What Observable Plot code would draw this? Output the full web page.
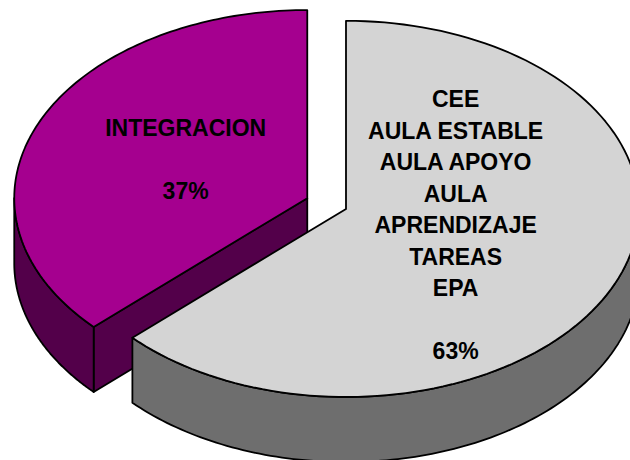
<!DOCTYPE html>
<html>
<head>
<meta charset="utf-8">
<script src="https://cdn.jsdelivr.net/npm/d3@7"></script>
<script src="https://cdn.jsdelivr.net/npm/@observablehq/plot@0.6"></script>
<style>
  html, body { margin: 0; padding: 0; background: #fff; overflow: hidden; }
  #chart svg { display: block; }
</style>
</head>
<body>
<div id="chart"></div>
<script>
// ---- data (first slice starts at 12 o'clock, clockwise) ----
const categories = ["CEE\nAULA ESTABLE\nAULA APOYO\nAULA\nAPRENDIZAJE\nTAREAS\nEPA", "INTEGRACION"];
const values = [63, 37];
const percentLabels = ["63%", "37%"];

// ---- styling / geometry ----
const topColors = ["#D4D4D4", "#A5008F"];
const sideColors = ["#6E6E6E", "#53004A"];
const tilt = 0.642, depth = 0.222, explode = 0.072, N = 120;

const total = d3.sum(values);
let acc = 0;
const slices = values.map((v, i) => {
  const a0 = acc / total * 2 * Math.PI; acc += v;
  const a1 = acc / total * 2 * Math.PI;
  const mid = (a0 + a1) / 2;
  return {i, a0, a1, mid, ox: explode * Math.sin(mid), oy: -explode * Math.cos(mid)};
});
// projection of plan point to chart coords
const P = (s, r, a, z) => ({x: s.ox + r * Math.sin(a), y: (s.oy - r * Math.cos(a)) * tilt + z});
const arc = (s, b0, b1, z) => d3.range(N + 1).map(k => P(s, 1, b0 + (b1 - b0) * k / N, z));
const close = pts => pts.concat([pts[0]]);

const marks = [];
const order = slices.slice().sort((a, b) => -Math.cos(a.mid) - -Math.cos(b.mid));
for (const s of order) {
  const side = sideColors[s.i], top = topColors[s.i];
  // cut faces
  if (Math.sin(s.a0) < -1e-6) {
    const poly = [P(s, 0, 0, 0), P(s, 1, s.a0, 0), P(s, 1, s.a0, depth), P(s, 0, 0, depth)];
    marks.push(Plot.line(close(poly), {x: "x", y: "y", fill: side, stroke: "black", strokeWidth: 1.8, curve: "linear"}));
  }
  if (Math.sin(s.a1) > 1e-6) {
    const poly = [P(s, 0, 0, 0), P(s, 1, s.a1, 0), P(s, 1, s.a1, depth), P(s, 0, 0, depth)];
    marks.push(Plot.line(close(poly), {x: "x", y: "y", fill: side, stroke: "black", strokeWidth: 1.8, curve: "linear"}));
  }
  // outer wall (front half only)
  const w0 = Math.max(s.a0, Math.PI / 2), w1 = Math.min(s.a1, 3 * Math.PI / 2);
  if (w1 > w0) {
    const poly = arc(s, w0, w1, 0).concat(arc(s, w1, w0, depth));
    marks.push(Plot.line(close(poly), {x: "x", y: "y", fill: side, stroke: "black", strokeWidth: 1.8, curve: "linear"}));
  }
  // top face
  const topPoly = [P(s, 0, 0, 0)].concat(arc(s, s.a0, s.a1, 0));
  marks.push(Plot.line(close(topPoly), {x: "x", y: "y", fill: top, stroke: "black", strokeWidth: 1.8, curve: "linear"}));
}

// labels
const nudges = [[-6, -18], [-6, -9]];
for (const s of slices) {
  const p = P(s, 0.43, s.mid, 0);
  marks.push(Plot.text([{x: p.x, y: p.y, t: categories[s.i] + "\n\u00a0\n" + percentLabels[s.i]}], {
    x: "x", y: "y", text: "t", dx: nudges[s.i][0], dy: nudges[s.i][1],
    fontSize: 23, fontWeight: "bold", fontFamily: "Arial, 'Liberation Sans', sans-serif",
    fill: "black", textAnchor: "middle", lineAnchor: "middle", lineHeight: 1.37
  }));
}

const chart = Plot.plot({
  width: 630, height: 460,
  margin: 0,
  x: {domain: [-1.113, 1.037], range: [0, 630], axis: null},
  y: {domain: [-0.693, 0.877], range: [0, 460], axis: null},
  style: {background: "white", overflow: "hidden"},
  marks
});
document.getElementById("chart").append(chart);
</script>
</body>
</html>
